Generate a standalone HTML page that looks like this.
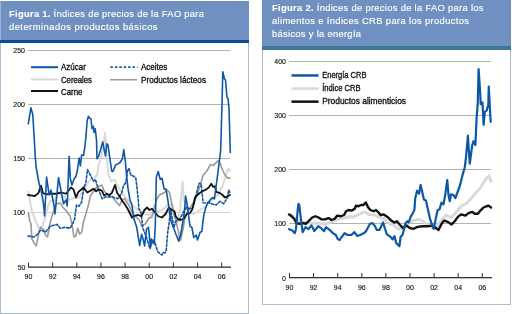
<!DOCTYPE html><html><head><meta charset="utf-8"><style>html,body{margin:0;padding:0;background:#fff;width:512px;height:314px;overflow:hidden}svg{display:block;filter:blur(0.3px)}text{font-family:"Liberation Sans",sans-serif}</style></head><body>
<svg width="512" height="314" viewBox="0 0 512 314">
<rect x="0" y="0" width="512" height="314" fill="#fff"/>
<rect x="0" y="1" width="249" height="39" fill="#7190c2"/>
<rect x="0" y="40" width="249" height="3" fill="#0b4c96"/>
<rect x="0" y="1" width="1" height="39" fill="#9fb3d3"/>
<rect x="0" y="43" width="1" height="271" fill="#a9bed3"/>
<rect x="248" y="43" width="1" height="271" fill="#a9bed3"/>
<rect x="0" y="313" width="249" height="1" fill="#a9bed3"/>
<rect x="262" y="0" width="249" height="46" fill="#7190c2"/>
<rect x="262" y="46" width="249" height="4" fill="#3f7893"/>
<rect x="262" y="50" width="1" height="255" fill="#a9bed3"/>
<rect x="510" y="50" width="1" height="255" fill="#a9bed3"/>
<rect x="262" y="304" width="249" height="1" fill="#a9bed3"/>
<text x="9" y="17" font-size="9.4" fill="#fff" stroke="#fff" stroke-width="0.15" textLength="195" lengthAdjust="spacing"><tspan font-weight="bold" stroke-width="0.08">Figura 1. </tspan>Índices de precios de la FAO para</text>
<text x="9" y="30" font-size="9.4" fill="#fff" font-weight="normal" textLength="148.5" lengthAdjust="spacing" stroke="#fff" stroke-width="0.15">determinados productos básicos</text>
<text x="272" y="10.6" font-size="9.4" fill="#fff" stroke="#fff" stroke-width="0.15" textLength="211.5" lengthAdjust="spacing"><tspan font-weight="bold" stroke-width="0.08">Figura 2. </tspan>Índices de precios de la FAO para los</text>
<text x="272" y="23.7" font-size="9.4" fill="#fff" font-weight="normal" textLength="197" lengthAdjust="spacing" stroke="#fff" stroke-width="0.15">alimentos e índices CRB para los productos</text>
<text x="272" y="36.6" font-size="9.4" fill="#fff" font-weight="normal" textLength="89" lengthAdjust="spacing" stroke="#fff" stroke-width="0.15">básicos y la energía</text>
<rect x="28" y="50.0" width="202" height="1" fill="#b5b2ae"/>
<text x="25" y="53.0" font-size="7" fill="#111" font-weight="normal" text-anchor="end" stroke="#111" stroke-width="0.12">250</text>
<rect x="28" y="104.0" width="202" height="1" fill="#b5b2ae"/>
<text x="25" y="107.0" font-size="7" fill="#111" font-weight="normal" text-anchor="end" stroke="#111" stroke-width="0.12">200</text>
<rect x="28" y="158.0" width="202" height="1" fill="#b5b2ae"/>
<text x="25" y="161.0" font-size="7" fill="#111" font-weight="normal" text-anchor="end" stroke="#111" stroke-width="0.12">150</text>
<rect x="28" y="212.0" width="202" height="1" fill="#d3d3d3"/>
<text x="25" y="215.0" font-size="7" fill="#111" font-weight="normal" text-anchor="end" stroke="#111" stroke-width="0.12">100</text>
<text x="25.5" y="270" font-size="7" fill="#111" font-weight="normal" text-anchor="end" stroke="#111" stroke-width="0.12">50</text>
<rect x="28" y="266.5" width="203" height="1.3" fill="#333"/>
<rect x="28.0" y="262.5" width="1" height="4.5" fill="#333"/>
<text x="28.5" y="279" font-size="7" fill="#111" font-weight="normal" text-anchor="middle" stroke="#111" stroke-width="0.12">90</text>
<rect x="52.15" y="262.5" width="1" height="4.5" fill="#333"/>
<text x="52.65" y="279" font-size="7" fill="#111" font-weight="normal" text-anchor="middle" stroke="#111" stroke-width="0.12">92</text>
<rect x="76.3" y="262.5" width="1" height="4.5" fill="#333"/>
<text x="76.8" y="279" font-size="7" fill="#111" font-weight="normal" text-anchor="middle" stroke="#111" stroke-width="0.12">94</text>
<rect x="100.44999999999999" y="262.5" width="1" height="4.5" fill="#333"/>
<text x="100.94999999999999" y="279" font-size="7" fill="#111" font-weight="normal" text-anchor="middle" stroke="#111" stroke-width="0.12">96</text>
<rect x="124.6" y="262.5" width="1" height="4.5" fill="#333"/>
<text x="125.1" y="279" font-size="7" fill="#111" font-weight="normal" text-anchor="middle" stroke="#111" stroke-width="0.12">98</text>
<rect x="148.75" y="262.5" width="1" height="4.5" fill="#333"/>
<text x="149.25" y="279" font-size="7" fill="#111" font-weight="normal" text-anchor="middle" stroke="#111" stroke-width="0.12">00</text>
<rect x="172.89999999999998" y="262.5" width="1" height="4.5" fill="#333"/>
<text x="173.39999999999998" y="279" font-size="7" fill="#111" font-weight="normal" text-anchor="middle" stroke="#111" stroke-width="0.12">02</text>
<rect x="197.04999999999998" y="262.5" width="1" height="4.5" fill="#333"/>
<text x="197.54999999999998" y="279" font-size="7" fill="#111" font-weight="normal" text-anchor="middle" stroke="#111" stroke-width="0.12">04</text>
<rect x="221.2" y="262.5" width="1" height="4.5" fill="#333"/>
<text x="221.7" y="279" font-size="7" fill="#111" font-weight="normal" text-anchor="middle" stroke="#111" stroke-width="0.12">06</text>
<rect x="289" y="61.0" width="202" height="1" fill="#b5b2ae"/>
<text x="286" y="64.0" font-size="7" fill="#111" font-weight="normal" text-anchor="end" stroke="#111" stroke-width="0.12">400</text>
<rect x="289" y="115.0" width="202" height="1" fill="#b5b2ae"/>
<text x="286" y="118.0" font-size="7" fill="#111" font-weight="normal" text-anchor="end" stroke="#111" stroke-width="0.12">300</text>
<rect x="289" y="169.0" width="202" height="1" fill="#b5b2ae"/>
<text x="286" y="172.0" font-size="7" fill="#111" font-weight="normal" text-anchor="end" stroke="#111" stroke-width="0.12">200</text>
<rect x="289" y="223.0" width="202" height="1" fill="#b5b2ae"/>
<text x="286" y="226.0" font-size="7" fill="#111" font-weight="normal" text-anchor="end" stroke="#111" stroke-width="0.12">100</text>
<text x="286" y="281" font-size="7" fill="#111" font-weight="normal" text-anchor="end" stroke="#111" stroke-width="0.12">0</text>
<rect x="289" y="277" width="203" height="1.3" fill="#333"/>
<rect x="289.0" y="273" width="1" height="4.5" fill="#333"/>
<text x="289.5" y="290" font-size="7" fill="#111" font-weight="normal" text-anchor="middle" stroke="#111" stroke-width="0.12">90</text>
<rect x="313.1" y="273" width="1" height="4.5" fill="#333"/>
<text x="313.6" y="290" font-size="7" fill="#111" font-weight="normal" text-anchor="middle" stroke="#111" stroke-width="0.12">92</text>
<rect x="337.2" y="273" width="1" height="4.5" fill="#333"/>
<text x="337.7" y="290" font-size="7" fill="#111" font-weight="normal" text-anchor="middle" stroke="#111" stroke-width="0.12">94</text>
<rect x="361.3" y="273" width="1" height="4.5" fill="#333"/>
<text x="361.8" y="290" font-size="7" fill="#111" font-weight="normal" text-anchor="middle" stroke="#111" stroke-width="0.12">96</text>
<rect x="385.4" y="273" width="1" height="4.5" fill="#333"/>
<text x="385.9" y="290" font-size="7" fill="#111" font-weight="normal" text-anchor="middle" stroke="#111" stroke-width="0.12">98</text>
<rect x="409.5" y="273" width="1" height="4.5" fill="#333"/>
<text x="410.0" y="290" font-size="7" fill="#111" font-weight="normal" text-anchor="middle" stroke="#111" stroke-width="0.12">00</text>
<rect x="433.6" y="273" width="1" height="4.5" fill="#333"/>
<text x="434.1" y="290" font-size="7" fill="#111" font-weight="normal" text-anchor="middle" stroke="#111" stroke-width="0.12">02</text>
<rect x="457.70000000000005" y="273" width="1" height="4.5" fill="#333"/>
<text x="458.20000000000005" y="290" font-size="7" fill="#111" font-weight="normal" text-anchor="middle" stroke="#111" stroke-width="0.12">04</text>
<rect x="481.8" y="273" width="1" height="4.5" fill="#333"/>
<text x="482.3" y="290" font-size="7" fill="#111" font-weight="normal" text-anchor="middle" stroke="#111" stroke-width="0.12">06</text>
<polyline points="28.30,191.70 31.70,209.90 35.60,221.30 39.40,229.00 42.25,226.10 45.10,217.50 48.00,206.00 50.90,200.30 54.70,201.00 58.00,192.00 62.00,195.00 68.00,200.00 74.00,198.00 79.00,197.50 85.00,187.50 90.00,180.00 95.00,177.00 97.25,175.00 98.50,165.00 101.00,157.50 103.50,145.00 105.00,133.00 107.25,162.50 108.50,175.00 111.00,181.25 114.75,180.00 116.00,182.50 120.00,190.00 126.00,198.00 132.00,205.00 138.00,210.00 144.00,214.00 150.00,215.00 156.00,212.00 162.00,210.00 168.00,205.00 172.50,205.00 175.00,217.50 177.50,222.50 180.00,210.00 182.60,181.25 184.00,200.00 188.00,212.00 194.00,214.00 200.00,210.00 206.00,206.00 212.00,200.00 218.00,195.00 222.50,186.00 225.00,178.75 226.90,171.25 228.75,168.75 229.75,171.25" fill="none" stroke="#d9d9d9" stroke-width="2.0" stroke-linejoin="round" stroke-linecap="round"/>
<polyline points="28.30,212.70 29.90,221.50 30.90,223.40 31.90,239.00 34.80,244.00 36.20,245.90 38.70,234.20 40.60,227.30 43.60,229.30 45.50,235.00 47.50,237.00 50.40,221.50 53.30,211.70 56.50,203.75 60.25,203.10 62.75,206.90 66.50,211.25 70.25,216.25 72.90,229.30 73.90,237.00 75.80,236.00 77.75,228.30 79.70,234.20 81.70,232.20 83.60,221.50 85.25,216.25 88.40,205.00 90.25,196.25 92.75,192.50 96.50,187.50 101.75,185.00 104.25,191.25 109.25,196.25 112.00,196.25 115.75,201.25 119.50,205.60 122.00,200.00 124.50,198.75 127.00,202.50 129.50,206.25 132.60,213.75 135.00,216.00 139.25,220.00 141.75,226.25 145.50,223.75 149.25,217.50 151.75,217.50 154.50,206.25 157.00,198.75 159.50,195.00 162.00,193.75 164.50,192.50 167.00,190.00 169.50,192.50 172.00,205.00 173.25,211.25 176.25,222.50 178.75,232.50 179.40,240.00 180.60,240.00 183.10,228.75 185.00,217.50 190.00,208.00 195.00,200.00 200.20,186.00 203.10,175.00 206.25,171.90 208.10,168.75 210.60,164.40 213.10,165.60 215.60,163.10 218.10,160.60 220.00,163.10 222.50,170.00 225.00,175.00 227.50,178.10 230.00,178.10" fill="none" stroke="#999999" stroke-width="1.6" stroke-linejoin="round" stroke-linecap="round"/>
<polyline points="28.00,236.00 33.80,237.00 36.70,235.00 40.60,230.00 45.50,232.00 50.40,226.00 57.25,224.40 60.20,228.30 65.00,227.30 70.00,228.30 72.90,223.40 74.60,219.00 76.50,205.00 79.00,206.25 81.50,202.50 82.75,195.00 84.00,187.50 85.90,182.50 87.50,169.50 90.50,175.40 93.40,181.25 95.30,179.30 98.30,189.00 102.20,198.80 106.00,196.90 112.00,196.90 117.80,198.80 121.70,193.00 123.25,186.25 125.75,182.50 128.00,169.00 129.10,168.70 131.00,175.40 133.90,176.30 135.80,178.20 137.00,187.50 138.25,200.00 138.90,208.75 140.75,211.25 143.00,228.75 146.00,236.00 150.00,248.75 152.00,242.50 154.00,240.00 156.25,246.90 157.50,251.25 160.00,253.75 162.00,255.00 163.00,252.50 165.00,253.00 166.25,250.00 167.50,234.00 169.10,223.00 170.75,210.00 172.20,218.00 173.90,227.80 175.50,221.50 180.30,218.30 183.50,211.90 186.70,207.10 189.00,208.70 192.50,208.75 195.00,200.00 197.30,190.00 199.20,183.20 201.20,184.20 203.10,202.70 206.00,203.00 208.75,202.50 212.00,204.00 216.25,205.00 220.00,201.25 223.75,203.75 227.50,197.50 228.75,190.00 230.00,193.00" fill="none" stroke="#0d57a6" stroke-width="1.6" stroke-linejoin="round" stroke-linecap="round" stroke-dasharray="2.4,1.9"/>
<polyline points="28.00,195.00 32.25,195.60 34.75,196.00 38.50,193.00 41.00,185.60 42.90,193.00 46.00,194.40 51.00,193.75 56.00,193.75 61.60,192.50 66.00,193.75 71.00,187.50 73.50,189.40 76.00,197.50 78.50,191.90 83.50,187.50 87.25,192.50 90.50,190.60 93.60,188.75 96.10,191.25 98.60,189.40 101.75,190.60 104.25,195.60 106.75,193.75 109.25,195.00 111.75,193.10 115.10,185.00 117.00,192.50 119.50,196.25 122.00,200.60 124.50,203.75 127.60,208.75 130.10,213.75 132.00,217.50 135.10,215.60 138.25,215.00 141.40,216.25 144.50,210.00 147.00,207.50 149.50,210.00 152.00,208.75 155.10,212.50 158.25,216.25 162.00,217.50 165.75,213.75 168.90,207.50 172.00,210.00 174.50,211.25 175.60,216.25 178.10,219.40 180.60,220.00 183.75,218.75 186.90,213.75 190.00,213.10 191.90,210.00 193.10,206.25 195.00,197.50 198.75,193.75 202.50,191.25 206.25,189.40 208.75,187.50 211.25,183.75 213.10,186.90 215.00,186.25 216.25,191.90 220.00,193.10 222.50,195.00 225.00,197.50 227.50,196.25 230.00,195.00" fill="none" stroke="#111111" stroke-width="1.8" stroke-linejoin="round" stroke-linecap="round"/>
<polyline points="28.30,123.80 30.90,107.80 32.80,114.60 35.40,158.75 36.25,168.00 39.10,183.75 41.00,190.00 43.50,203.75 44.60,216.00 46.60,177.00 49.10,195.00 51.00,190.00 54.10,206.00 55.00,214.00 58.50,177.50 61.60,193.75 63.50,203.75 66.00,200.00 67.25,206.00 69.10,156.25 70.40,179.00 71.90,185.00 74.10,179.00 76.00,176.25 77.25,171.00 79.10,158.00 80.40,166.00 81.60,155.00 83.50,155.60 84.60,149.00 85.90,137.50 87.10,121.25 88.40,116.25 89.60,118.10 90.90,118.75 92.10,128.75 93.40,126.25 94.00,132.50 95.25,128.75 96.50,140.00 97.00,158.75 98.60,156.25 100.50,150.00 102.75,141.90 104.25,150.00 105.50,156.00 106.75,143.75 108.00,145.00 109.90,158.75 111.75,171.25 112.90,171.50 115.70,164.90 119.60,163.00 122.40,159.00 123.80,149.60 125.30,161.00 126.80,178.20 128.20,189.70 130.00,200.00 131.90,204.70 133.80,218.60 136.70,227.30 139.70,245.50 141.60,234.20 143.00,238.75 144.60,245.90 146.50,229.30 148.50,227.30 150.40,246.90 151.40,239.00 154.30,244.00 155.30,225.00 156.30,177.30 158.20,171.50 160.20,179.30 162.10,178.30 164.10,189.00 166.00,189.00 168.00,200.80 170.00,216.25 171.90,223.75 174.40,230.00 176.25,235.00 178.75,241.25 180.60,235.00 182.50,223.75 184.40,212.50 185.60,196.00 187.50,206.60 190.00,226.25 191.90,227.50 193.75,237.50 196.25,235.00 197.50,240.00 200.00,232.50 201.90,231.25 203.10,220.00 204.40,212.50 206.25,206.25 208.10,202.50 211.25,198.75 213.10,197.50 214.40,199.00 216.25,185.00 218.10,171.25 219.40,161.00 220.70,150.00 222.10,100.00 222.80,71.70 224.50,79.00 225.50,80.00 227.00,97.50 228.00,98.30 229.00,108.70 230.30,152.40" fill="none" stroke="#0d57a6" stroke-width="1.6" stroke-linejoin="round" stroke-linecap="round"/>
<polyline points="289.00,214.50 293.00,216.00 297.70,220.40 303.00,222.00 311.40,223.30 318.00,223.00 325.10,224.30 331.00,222.00 336.80,219.40 343.00,218.50 350.50,216.50 353.50,216.90 358.50,214.40 364.75,211.90 368.50,214.40 374.75,215.00 383.50,218.75 389.75,223.75 394.75,225.60 398.75,229.40 402.50,227.50 411.25,221.25 417.50,219.40 422.50,220.60 427.50,225.00 432.50,227.50 434.70,228.80 439.75,222.50 446.00,215.00 451.00,217.50 456.00,212.50 461.00,206.25 466.00,203.75 471.00,198.75 476.00,192.50 479.75,188.75 482.90,183.75 486.00,178.75 489.10,176.25 491.00,181.25" fill="none" stroke="#d9d9d9" stroke-width="3" stroke-linejoin="round" stroke-linecap="round"/>
<polyline points="289.10,214.40 291.60,216.25 294.10,218.75 296.60,223.10 299.75,223.75 302.90,223.10 306.00,223.75 309.10,220.60 312.25,217.50 315.40,216.25 318.50,217.50 321.60,219.40 324.75,219.40 328.50,218.10 331.60,220.00 334.75,218.75 337.25,215.60 341.00,216.25 344.10,215.00 346.00,211.25 348.50,210.00 351.60,210.60 354.75,208.75 356.00,205.60 358.50,206.25 361.00,205.00 363.50,205.00 365.75,202.50 367.90,206.90 370.40,210.00 373.75,211.25 376.00,210.00 378.50,212.50 380.60,215.00 383.75,214.40 387.50,216.90 391.25,220.60 394.40,222.50 396.90,221.25 400.00,225.00 403.10,228.10 406.25,225.60 410.00,228.10 413.75,228.75 417.50,226.90 422.50,226.25 427.50,226.25 432.50,225.60 435.70,227.90 438.50,230.00 441.60,223.75 444.10,220.60 447.90,221.90 451.60,224.40 454.75,221.25 457.90,216.90 461.00,214.40 465.40,215.60 468.50,213.10 472.25,211.90 474.75,213.75 477.90,213.75 480.40,210.60 483.50,207.50 486.60,206.25 488.50,205.60 491.00,207.50" fill="none" stroke="#111111" stroke-width="2.4" stroke-linejoin="round" stroke-linecap="round"/>
<polyline points="289.00,229.20 291.90,230.20 294.80,233.10 296.00,229.00 297.70,210.00 298.50,203.75 299.30,205.00 300.60,216.50 302.60,232.10 305.50,227.20 308.50,229.20 311.40,225.30 314.30,231.10 318.20,226.25 321.20,228.20 324.10,231.10 326.00,227.20 329.90,230.20 332.90,233.10 335.80,235.00 337.75,239.00 339.70,240.00 341.70,237.00 344.60,233.10 347.50,235.00 351.40,235.00 354.40,232.10 357.30,236.00 360.20,235.00 364.10,233.10 366.10,231.10 370.00,223.75 372.50,223.10 375.00,226.25 376.90,230.00 379.40,230.00 381.25,226.25 383.10,222.50 385.00,228.75 386.90,234.40 388.75,235.60 390.60,236.90 392.50,239.40 394.40,236.25 396.25,243.10 398.10,245.00 399.40,246.25 400.60,236.90 402.50,235.00 403.75,230.00 405.60,223.10 407.50,221.25 408.75,222.50 410.60,216.90 412.50,213.75 414.40,210.00 415.20,198.60 417.10,190.70 419.10,193.70 420.60,184.90 422.00,190.70 423.90,199.50 425.90,200.50 427.90,209.30 429.80,218.10 431.75,224.00 433.70,228.80 435.70,219.00 437.60,210.30 439.60,209.30 441.50,202.50 443.50,204.40 445.40,193.70 447.25,180.00 448.50,195.00 449.75,201.25 451.00,194.40 453.50,195.00 455.40,198.10 457.90,191.25 459.75,186.25 461.60,178.75 462.90,173.75 464.75,167.50 466.00,157.50 467.90,135.60 469.75,163.75 472.25,145.00 473.50,141.25 475.40,145.00 476.00,131.25 476.60,117.70 477.70,104.70 478.60,69.00 480.20,92.80 480.70,104.10 482.50,102.40 483.60,124.80 484.80,111.80 486.60,110.60 488.30,104.70 488.75,86.60 490.70,121.80" fill="none" stroke="#0d57a6" stroke-width="2.2" stroke-linejoin="round" stroke-linecap="round"/>
<rect x="31" y="66.2" width="27" height="2" fill="#0d57a6"/>
<rect x="31" y="78.5" width="27" height="2" fill="#d9d9d9"/>
<rect x="31" y="90" width="27" height="2" fill="#111111"/>
<line x1="110.5" y1="67.2" x2="137.5" y2="67.2" stroke="#0d57a6" stroke-width="1.7" stroke-dasharray="2.4,2.0"/>
<rect x="110" y="79" width="27" height="1.5" fill="#999999"/>
<text x="61" y="70.2" font-size="8.5" fill="#111" font-weight="normal" textLength="24.8" lengthAdjust="spacingAndGlyphs" stroke="#111" stroke-width="0.32">Azúcar</text>
<text x="61" y="82.6" font-size="8.5" fill="#111" font-weight="normal" textLength="31" lengthAdjust="spacingAndGlyphs" stroke="#111" stroke-width="0.32">Cereales</text>
<text x="61" y="94.6" font-size="8.5" fill="#111" font-weight="normal" textLength="21.5" lengthAdjust="spacingAndGlyphs" stroke="#111" stroke-width="0.32">Carne</text>
<text x="141" y="70.2" font-size="8.5" fill="#111" font-weight="normal" textLength="26.3" lengthAdjust="spacingAndGlyphs" stroke="#111" stroke-width="0.32">Aceites</text>
<text x="141" y="82.6" font-size="8.5" fill="#111" font-weight="normal" textLength="65" lengthAdjust="spacingAndGlyphs" stroke="#111" stroke-width="0.32">Productos lácteos</text>
<rect x="291.5" y="74.2" width="27" height="2.5" fill="#0d57a6"/>
<rect x="291.5" y="87.3" width="27" height="2.5" fill="#d9d9d9"/>
<rect x="291.5" y="100.4" width="27" height="2.5" fill="#111111"/>
<text x="322.2" y="78.2" font-size="8.5" fill="#111" font-weight="normal" textLength="44.3" lengthAdjust="spacingAndGlyphs" stroke="#111" stroke-width="0.32">Energía CRB</text>
<text x="322.2" y="91.2" font-size="8.5" fill="#111" font-weight="normal" textLength="38.3" lengthAdjust="spacingAndGlyphs" stroke="#111" stroke-width="0.32">Índice CRB</text>
<text x="322.2" y="103.9" font-size="8.5" fill="#111" font-weight="normal" textLength="83.8" lengthAdjust="spacingAndGlyphs" stroke="#111" stroke-width="0.32">Productos alimenticios</text>
</svg></body></html>
